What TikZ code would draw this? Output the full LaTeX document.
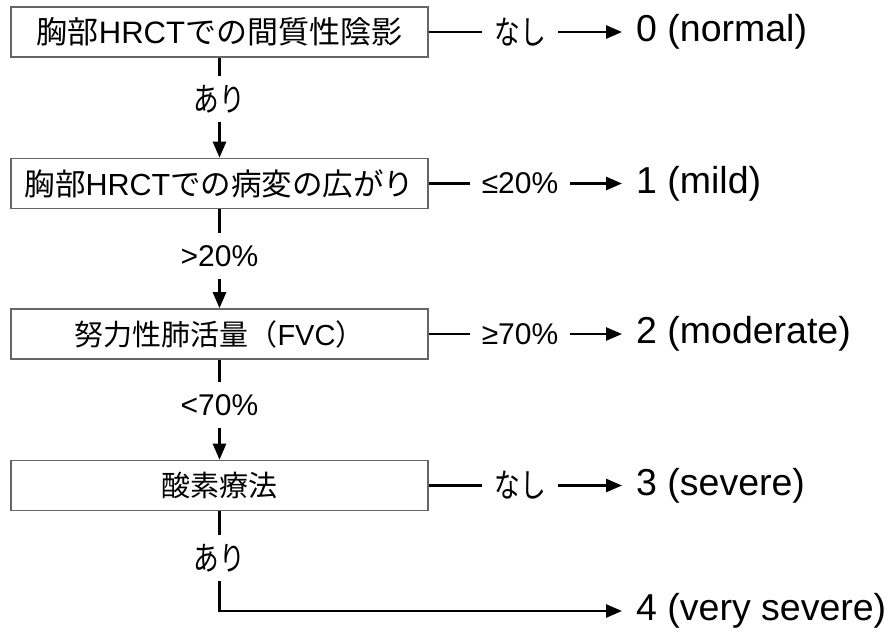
\documentclass[tikz,border=0pt]{standalone}
\usepackage{fontspec}
\setmainfont{Liberation Sans}
\newfontfamily\jp{Noto Sans CJK JP}
\newfontfamily\jpn[FakeStretch=0.78]{Noto Sans CJK JP}
\usetikzlibrary{arrows.meta}
\newcommand\kana[1]{{\jpn\fontsize{33}{36}\selectfont #1}}
\begin{document}
\begin{tikzpicture}[x=1pt,y=-1pt,
  box/.style={draw=black!60,line width=1.6pt,minimum width=417pt,minimum height=50pt,inner sep=0pt,font=\fontsize{29}{34}\selectfont},
  vlab/.style={inner sep=0pt,minimum height=46pt,font=\fontsize{30}{34}\selectfont},
  hlab/.style={inner xsep=12pt,inner ysep=0pt,font=\fontsize{30}{34}\selectfont},
  res/.style={anchor=west,inner xsep=14pt,inner ysep=0pt,font=\fontsize{37.5}{42}\selectfont},
  conn/.style={line width=2.6pt,black},
  arr/.style={conn,-{Triangle[length=16pt,width=13pt]}},
]
\useasboundingbox (0,0) rectangle (894,638);
% boxes
\node[box,font=\fontsize{31}{36}\selectfont] (b1) at (219.5,32) {{\jp 胸部}HRCT{\jp での間質性陰影}};
\node[box,font=\fontsize{30.5}{36}\selectfont] (b2) at (219.5,183.5) {{\jp 胸部}HRCT{\jp での病変の広がり}};
\node[box] (b3) at (219.5,334) {{\jp 努力性肺活量（}FVC{\jp ）}};
\node[box] (b4) at (219.5,485.5) {{\jp 酸素療法}};
% vertical labels
\node[vlab] (v1) at (219.5,99) {\kana{あり}};
\node[vlab] (v2) at (219.5,256) {>20\%};
\node[vlab] (v3) at (219.5,405) {<70\%};
\node[vlab] (v4) at (219.5,558) {\kana{あり}};
% horizontal labels
\node[hlab] (h1) at (520,32) {\kana{なし}};
\node[hlab] (h2) at (520,183.5) {≤20\%};
\node[hlab] (h3) at (520,334) {≥70\%};
\node[hlab] (h4) at (520,485.5) {\kana{なし}};
% results
\node[res] (r1) at (622,32) {0 (normal)};
\node[res] (r2) at (622,183.5) {1 (mild)};
\node[res] (r3) at (622,334) {2 (moderate)};
\node[res] (r4) at (622,485.5) {3 (severe)};
\node[res] (r5) at (622,611) {4 (very severe)};
% connectors
\draw[conn] (b1) -- (v1);
\draw[arr] (v1) -- (b2);
\draw[conn] (b2) -- (v2);
\draw[arr] (v2) -- (b3);
\draw[conn] (b3) -- (v3);
\draw[arr] (v3) -- (b4);
\draw[conn] (b4) -- (v4);
\draw[arr] (v4) |- (r5);
\foreach \i in {1,2,3,4}{
  \draw[conn] (b\i) -- (h\i);
  \draw[arr] (h\i) -- (r\i);
}
\end{tikzpicture}
\end{document}
